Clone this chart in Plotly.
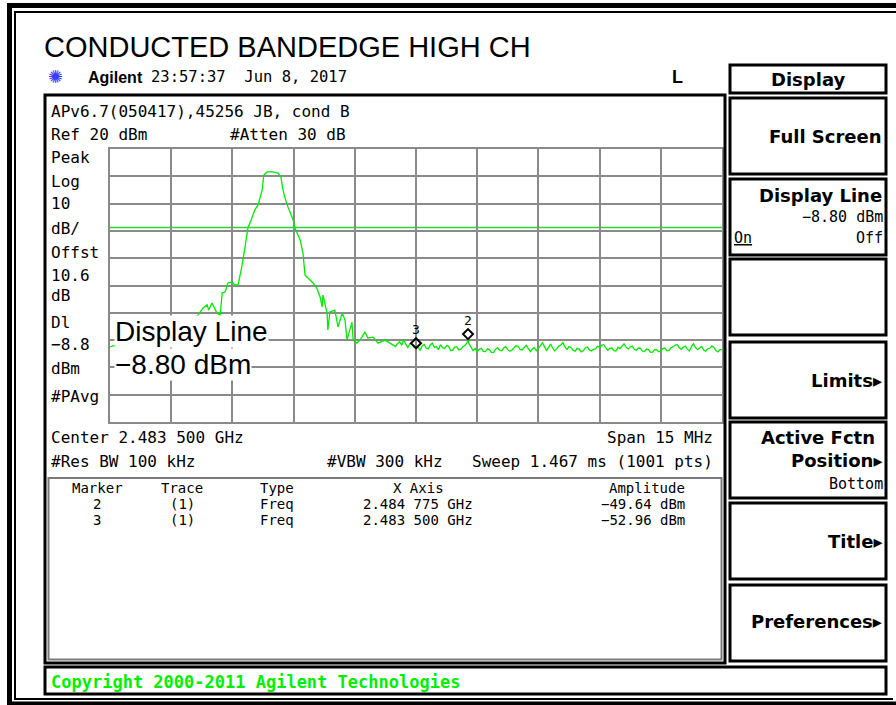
import plotly.graph_objects as go

W, H = 896, 705

# ---------------- data ----------------
center_ghz = 2.4835
span_mhz = 15.0
ref_level_dbm = 20
db_per_div = 10
display_line_dbm = -8.8

# trace: offset from start frequency (MHz) and level (dBm)
freq_offset_mhz = [
    0.00, 0.15, 0.40, 0.70, 1.00, 1.30, 1.60, 1.85, 2.05, 2.16, 2.28, 2.38, 2.42, 2.50, 2.55,
    2.62, 2.70, 2.75, 2.82, 2.89, 2.99, 3.06, 3.14, 3.23, 3.31, 3.38, 3.46, 3.55, 3.63, 3.73,
    3.77, 3.85, 4.00, 4.12, 4.19, 4.24, 4.29, 4.36, 4.49, 4.53, 4.66, 4.73, 4.78, 4.85, 4.98,
    5.07, 5.15, 5.20, 5.22, 5.32, 5.34, 5.39, 5.51, 5.59, 5.69, 5.76, 5.81, 5.93, 5.96, 6.05,
    6.13, 6.25, 6.32, 6.45, 6.57, 6.74, 6.86,
    7.00, 7.05, 7.10, 7.15, 7.20, 7.25, 7.30, 7.35, 7.40, 7.45, 7.50, 7.55, 7.60, 7.65, 7.70,
    7.75, 7.80, 7.85, 7.90, 7.95, 8.00, 8.05, 8.10, 8.15, 8.20, 8.25, 8.30, 8.35, 8.40, 8.45,
    8.50, 8.55, 8.60, 8.65, 8.70, 8.75, 8.775, 8.80, 8.85, 8.90, 8.95, 9.00, 9.05, 9.10, 9.15,
    9.20, 9.25, 9.30, 9.35, 9.40, 9.45, 9.50, 9.55, 9.60, 9.65, 9.70, 9.75, 9.80, 9.85, 9.90,
    9.95, 10.00, 10.05, 10.10, 10.15, 10.20, 10.25, 10.30, 10.35, 10.40, 10.45, 10.50, 10.55,
    10.60, 10.65, 10.70, 10.75, 10.80, 10.85, 10.90, 10.95, 11.00, 11.05, 11.10, 11.15, 11.20,
    11.25, 11.30, 11.35, 11.40, 11.45, 11.50, 11.55, 11.60, 11.65, 11.70, 11.75, 11.80, 11.85,
    11.90, 11.95, 12.00, 12.05, 12.10, 12.15, 12.20, 12.25, 12.30, 12.35, 12.40, 12.45, 12.50,
    12.55, 12.60, 12.65, 12.70, 12.75, 12.80, 12.85, 12.90, 12.95, 13.00, 13.05, 13.10, 13.15,
    13.20, 13.25, 13.30, 13.35, 13.40, 13.45, 13.50, 13.55, 13.60, 13.65, 13.70, 13.75, 13.80,
    13.85, 13.90, 13.95, 14.00, 14.05, 14.10, 14.15, 14.20, 14.25, 14.30, 14.35, 14.40, 14.45,
    14.50, 14.55, 14.60, 14.65, 14.70, 14.75, 14.80, 14.85, 14.90, 14.95, 15.00,
]
level_dbm = [
    -52.5, -51.7, -50.6, -49.3, -48.0, -46.4, -45.1, -43.6, -42.2, -40.8, -38.2, -37.1, -39.0, -36.4, -37.9,
    -40.1, -40.8, -32.7, -32.4, -29.1, -28.7, -29.8, -29.8, -23.2, -15.9, -8.9, -6.0, -2.3, -0.5, 5.0,
    10.5, 11.6, 11.6, 11.2, 9.7, 5.0, 2.1, -1.2, -6.0, -8.9, -13.3, -18.1, -26.2, -27.3, -29.1,
    -31.0, -34.2, -37.9, -33.5, -40.1, -46.3, -39.7, -39.0, -45.2, -40.1, -42.6, -50.0, -43.4, -50.0, -51.1,
    -50.0, -47.0, -49.2, -48.9, -51.1, -50.0, -51.1,
    -52.4, -51.2, -50.6, -51.9, -49.8, -51.6, -52.7, -51.3, -51.5, -52.6, -52.96, -52.2, -53.8, -52.1, -51.6,
    -52.9, -53.2, -51.8, -51.1, -52.7, -52.4, -53.5, -51.7, -52.8, -53.1, -52.0, -52.3, -53.9, -53.7, -52.6,
    -52.5, -53.6, -53.3, -52.4, -51.9, -51.0, -49.64, -51.3, -52.6, -53.9, -53.1, -54.3, -53.4, -53.0, -54.1,
    -54.2, -53.2, -53.5, -54.5, -54.6, -53.3, -52.8, -53.7, -53.9, -52.9, -52.4, -53.5, -54.1, -53.6, -53.0,
    -52.1, -52.3, -53.4, -53.6, -52.6, -51.9, -53.0, -54.2, -53.3, -52.8, -53.9, -53.1, -52.0,
    -51.0, -52.4, -53.8, -52.7, -51.4, -52.9, -54.0, -53.1, -52.2, -51.8, -50.9, -52.5, -53.4,
    -52.4, -52.7, -53.8, -54.1, -53.0, -53.3, -54.3, -53.9, -52.8, -52.5, -53.6, -54.0, -53.4,
    -53.2, -52.3, -52.6, -51.9, -51.6, -52.8, -53.7, -53.0, -52.9, -53.9, -54.0, -52.7, -53.1,
    -52.2, -51.4, -52.6, -53.3, -52.5, -52.2, -53.4, -53.8, -52.9, -53.0, -54.0, -54.2, -53.3,
    -53.5, -54.5, -54.4, -53.5, -53.6, -54.3, -54.0, -53.1, -52.9, -53.9, -53.8, -52.8, -52.5,
    -51.9, -51.6, -52.7, -53.4, -52.6, -52.2, -53.3, -54.0, -52.4, -51.3, -52.7, -53.5, -52.9,
    -52.4, -53.6, -54.1, -53.2, -53.0, -52.1, -52.7, -53.8, -54.3, -53.4, -53.6,
]

marker_ids = [2, 3]
marker_freq_ghz = [2.484775, 2.483500]
marker_amp_dbm = [-49.64, -52.96]

left_labels = ["Peak", "Log", "10", "dB/", "Offst", "10.6", "dB", "Dl", "\u22128.8", "dBm", "#PAvg"]
left_label_rows = [157, 181, 204, 228, 252, 275, 296, 322, 345, 368, 396]

softkeys = ["Full Screen", "Display Line", "", "Limits\u25b8", "Active Fctn", "Title\u25b8", "Preferences\u25b8"]

# ---------------- helpers ----------------
f_start = center_ghz - span_mhz / 2000.0
f_stop = center_ghz + span_mhz / 2000.0
freq_ghz = [f_start + v / 1000.0 for v in freq_offset_mhz]


def px(x):
    return x / W


def py(y):
    return 1 - y / H


MONO = "DejaVu Sans Mono"
SANS = "Liberation Sans, Arial"
KEY = "DejaVu Sans"

annotations = []
shapes = []


def txt(s, x, y, size=16, fam=MONO, anchor="left", color="black", bold=False, bg=None):
    if bold:
        s = f"<b>{s}</b>"
    d = dict(text=s, x=px(x), y=py(y), xref="paper", yref="paper", showarrow=False,
             xanchor=anchor, yanchor="middle", font=dict(size=size, family=fam, color=color))
    if bg:
        d.update(bgcolor=bg, borderpad=0)
    annotations.append(d)


def box(x0, y0, x1, y1, color="black", w=3):
    shapes.append(dict(type="rect", xref="paper", yref="paper", x0=px(x0), y0=py(y0),
                       x1=px(x1), y1=py(y1), line=dict(color=color, width=w),
                       fillcolor="rgba(0,0,0,0)", layer="above"))


def hline(x0, x1, y, w, color="black"):
    shapes.append(dict(type="line", xref="paper", yref="paper", x0=px(x0), x1=px(x1),
                       y0=py(y), y1=py(y), line=dict(color=color, width=w), layer="above"))


def vline(x, y0, y1, w, color="black"):
    shapes.append(dict(type="line", xref="paper", yref="paper", x0=px(x), x1=px(x),
                       y0=py(y0), y1=py(y1), line=dict(color=color, width=w), layer="above"))


# ---------------- frames ----------------
hline(7, 896, 5.5, 5)
vline(9.5, 3, 705, 5)
hline(7, 896, 703.5, 4)
hline(14, 896, 12, 2)
vline(15, 11, 700, 2)
hline(14, 893, 699, 2)

box(45, 95, 725, 663, w=3)
box(48.5, 478, 721.5, 659.5, color="#7a7a7a", w=2)
box(45, 667, 886, 694, w=3)

# softkey boxes
key_tops = [98, 179, 259, 342, 422, 503, 585]
box(730, 65, 886, 93, w=3)
for t in key_tops:
    box(730, t, 886, t + 76, w=3)

# ---------------- header text ----------------
txt("CONDUCTED BANDEDGE HIGH CH", 42, 47, size=29, fam=SANS)
txt("\u273a", 46, 76, size=18, fam=KEY, color="#3c3cff")
txt("Agilent", 86, 77, size=16, fam=SANS, bold=True)
txt("23:57:37  Jun 8, 2017", 149, 77, size=15.5)
txt("L", 670, 77, size=18, fam=SANS, bold=True)

txt("APv6.7(050417),45256 JB, cond B", 49, 111, size=16)
txt("Ref %d dBm" % ref_level_dbm, 49, 135, size=16)
txt("#Atten 30 dB", 228, 135, size=16)
for lab, row in zip(left_labels, left_label_rows):
    txt(lab, 49, row, size=16)

txt("Center %.3f %03d GHz" % (int(center_ghz * 1000) / 1000, round(center_ghz * 1e6) % 1000), 49, 437, size=16)
txt("Span %g MHz" % span_mhz, 715, 437, size=16, anchor="right")
txt("#Res BW 100 kHz", 49, 462, size=16)
txt("#VBW 300 kHz", 325, 462, size=16)
txt("Sweep 1.467 ms (1001 pts)", 715, 462, size=16, anchor="right")

# marker table
txt("Marker", 97, 488, size=14, anchor="center")
txt("Trace", 182, 488, size=14, anchor="center")
txt("Type", 258, 488, size=14)
txt("X Axis", 418, 488, size=14, anchor="center")
txt("Amplitude", 687, 488, size=14, anchor="right")
for i, (mid, mf, ma) in enumerate(zip(marker_ids, marker_freq_ghz, marker_amp_dbm)):
    row = 504 + 16 * i
    ghz = "%.6f" % mf
    txt(str(mid), 97, row, size=14, anchor="center")
    txt("(1)", 182, row, size=14, anchor="center")
    txt("Freq", 258, row, size=14)
    txt("%s %s GHz" % (ghz[:5], ghz[5:]), 418, row, size=14, anchor="center")
    txt(("%.2f dBm" % ma).replace("-", "\u2212"), 687, row, size=14, anchor="right")

# softkeys
KS = 18
txt("Display", 808, 79, size=KS, fam=KEY, anchor="center", bold=True)
txt(softkeys[0], 884, 136, size=KS, fam=KEY, anchor="right", bold=True)
txt(softkeys[1], 884, 195, size=KS, fam=KEY, anchor="right", bold=True)
txt(("%.2f dBm" % display_line_dbm).replace("-", "\u2212"), 885, 217, size=15, anchor="right")
txt("<u>On</u>", 732, 238, size=15)
txt("Off", 885, 238, size=15, anchor="right")
txt(softkeys[3], 884, 380, size=KS, fam=KEY, anchor="right", bold=True)
txt(softkeys[4], 877, 437, size=KS, fam=KEY, anchor="right", bold=True)
txt("Position\u25b8", 884, 460, size=KS, fam=KEY, anchor="right", bold=True)
txt("Bottom", 885, 484, size=15, anchor="right")
txt(softkeys[5], 884, 541, size=KS, fam=KEY, anchor="right", bold=True)
txt(softkeys[6], 884, 621, size=KS, fam=KEY, anchor="right", bold=True)

txt("Copyright 2000-2011 Agilent Technologies", 49, 682, size=17, color="#00ee00", bold=True)

# display line annotation (white boxes covering trace and grid)
txt("Display Line", 114, 331, size=28, fam=SANS, bg="white")
txt(("%.2f dBm" % display_line_dbm).replace("-", "\u2212"), 114, 364, size=28, fam=SANS, bg="white")

# display line
shapes.append(dict(type="line", xref="x domain", yref="y", x0=0, x1=1,
                   y0=display_line_dbm, y1=display_line_dbm,
                   line=dict(color="#2fd62f", width=1.5), layer="below"))

# markers (diamond sitting on the trace point) and numbers
for mid, mf, ma in zip(marker_ids, marker_freq_ghz, marker_amp_dbm):
    shapes.append(dict(type="path", xref="x", yref="y", xsizemode="pixel", ysizemode="pixel",
                       xanchor=mf, yanchor=ma, path="M0,0 L5,5 L0,10 L-5,5 Z",
                       line=dict(color="black", width=2), fillcolor="rgba(0,0,0,0)", layer="above"))
    annotations.append(dict(text=str(mid), x=mf, y=ma, xref="x", yref="y", showarrow=False,
                            yshift=19, xanchor="center", yanchor="middle",
                            font=dict(size=13, family=MONO, color="black")))

fig = go.Figure()
fig.add_trace(go.Scatter(x=freq_ghz, y=level_dbm, mode="lines",
                         line=dict(color="#00ea00", width=1.3), hoverinfo="skip", showlegend=False))

grid = "#8a8a8a"
fig.update_layout(
    width=W, height=H, autosize=False,
    margin=dict(l=0, r=0, t=0, b=0),
    paper_bgcolor="white", plot_bgcolor="white",
    showlegend=False,
    xaxis=dict(domain=[px(110), px(722)], range=[f_start, f_stop], tick0=f_start,
               dtick=span_mhz / 10000.0, showgrid=True, gridcolor=grid, gridwidth=1.5,
               showline=True, mirror=True, linecolor=grid, linewidth=2,
               showticklabels=False, ticks="", zeroline=False, fixedrange=True),
    yaxis=dict(domain=[py(422), py(149)],
               range=[ref_level_dbm - 10 * db_per_div, ref_level_dbm], tick0=ref_level_dbm,
               dtick=db_per_div, showgrid=True, gridcolor=grid, gridwidth=1.5,
               showline=True, mirror=True, linecolor=grid, linewidth=2,
               showticklabels=False, ticks="", zeroline=False, fixedrange=True),
    annotations=annotations,
    shapes=shapes,
)

fig.write_html(
    "out.html", config={"displayModeBar": False},
    post_script=(
        "document.documentElement.style.overflow='hidden';"
        "document.documentElement.style.margin='0px';"
        "document.body.style.margin='0px';"
        "document.body.style.padding='0px';"
        "document.body.style.overflow='hidden';"
        "window.scrollTo(0,0);"
    ),
)
